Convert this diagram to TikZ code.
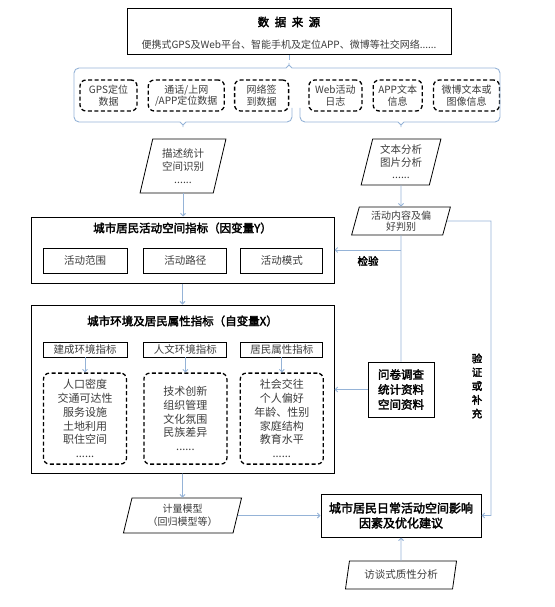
\documentclass[tikz,border=0pt]{standalone}
\usepackage{fontspec}
\setmainfont[AutoFakeBold=2.5]{Noto Sans CJK SC}
\usepackage{tikz}
\usetikzlibrary{shapes.geometric,arrows.meta,calc,positioning}
\definecolor{linkblue}{RGB}{149,179,215}
\definecolor{textgray}{RGB}{60,60,60}
\tikzset{
    bigbox/.style={draw, line width=1pt, align=center, inner sep=2pt},
    subbox/.style={draw, line width=0.9pt, align=center, inner sep=2pt, text=textgray,
        font=\fontsize{10.5}{12}\selectfont},
    dashbox/.style={draw, dash pattern=on 4pt off 2.5pt, line width=1.3pt, rounded corners=6pt,
        align=center, inner sep=3pt, text=textgray},
    paral/.style={trapezium, trapezium left angle=76, trapezium right angle=104,
        trapezium stretches=true, draw, line width=0.8pt, align=center, inner sep=1pt, text=textgray},
    heading/.style={font=\fontsize{11.5}{13.5}\selectfont\bfseries},
    link/.style={draw=linkblue, line width=0.9pt},
    flow/.style={link, -{Straight Barb[length=2.5pt,width=5pt]}},
    bracket/.style={link, rounded corners=5pt}
}

\begin{document}
\begin{tikzpicture}[x=1pt,y=1pt]
    \useasboundingbox (0,0) rectangle (554,-607);
    % Data sources
    \node[bigbox, minimum width=324pt, minimum height=46pt] (source) at (289,-32) {};
    \node[heading] (sourcetitle) at (289,-22) {数\hspace{5.5pt}据\hspace{5.5pt}来\hspace{5.5pt}源};
    \node[font=\fontsize{10}{12}\selectfont, text=textgray] (sourcelist) at (289,-45)
        {便携式GPS及Web平台、智能手机及定位APP、微博等社交网络......};
    \tikzset{every node/.append style={font=\fontsize{10}{11.5}\selectfont}}
    \node[dashbox, minimum width=57pt, minimum height=31pt] (gps) at (108.5,-95.5) {GPS定位\\数据};
    \node[dashbox, minimum width=76pt, minimum height=31pt, right=10pt of gps] (call) {通话/上网\\/APP定位数据};
    \node[dashbox, minimum width=54pt, minimum height=31pt, right=9pt of call] (checkin) {网络签\\到数据};
    \node[dashbox, minimum width=53pt, minimum height=31pt, right=19pt of checkin] (weblog) {Web活动\\日志};
    \node[dashbox, minimum width=49pt, minimum height=31pt, right=10pt of weblog] (apptext) {APP文本\\信息};
    \node[dashbox, minimum width=66pt, minimum height=31pt, right=10pt of apptext] (weibo) {微博文本或\\图像信息};
    % Brackets round the two groups
    \coordinate (toptip) at (289,-60);
    \draw[bracket] (74,-96) -- (74,-68) -- (281,-68) .. controls (286,-68) and (289,-65) .. (toptip)
        .. controls (289,-65) and (292,-68) .. (297,-68) -- (500,-68) -- (500,-96);
    \draw[link] (toptip) -- (source.south);
    \draw[bracket] (74,-96) -- (74,-122) -- (175,-122) .. controls (180,-122) and (183,-125) .. (183,-130)
        .. controls (183,-125) and (186,-122) .. (191,-122) -- (292,-122) -- (292,-108);
    \draw[bracket] (300,-108) -- (300,-122) -- (393,-122) .. controls (398,-122) and (401,-125) .. (401,-130)
        .. controls (401,-125) and (404,-122) .. (409,-122) -- (500,-122) -- (500,-96);
    % Processing of the data
    \node[paral, minimum width=86pt, minimum height=54pt, font=\fontsize{10.5}{13}\selectfont] (stats) at (183,-166)
        {描述统计\\空间识别\\......};
    \node[paral, minimum width=80pt, minimum height=46pt, font=\fontsize{10.5}{12.5}\selectfont] (textmine) at (401,-162)
        {文本分析\\图片分析\\......};
    \node[paral, minimum width=99pt, minimum height=28pt] (pref) at (401,-221) {活动内容及偏\\好判别};
    % Dependent variable
    \node[bigbox, minimum width=303pt, minimum height=66pt] (ybox) at (182.5,-250) {};
    \node[heading] (ytitle) at (182.5,-228) {城市居民活动空间指标（因变量Y）};
    \node[subbox, minimum width=84pt, minimum height=25pt] (range) at (85,-260.5) {活动范围};
    \node[subbox, minimum width=83pt, minimum height=25pt, right=16pt of range] (route) {活动路径};
    \node[subbox, minimum width=82pt, minimum height=25pt, right=13pt of route] (mode) {活动模式};
    % Independent variables
    \node[bigbox, minimum width=303pt, minimum height=168pt] (xbox) at (182.5,-389) {};
    \node[heading] (xtitle) at (182.5,-321) {城市环境及居民属性指标（自变量X）};
    \node[subbox, minimum width=84pt, minimum height=15pt, inner sep=1pt] (built) at (85,-349.5) {建成环境指标};
    \node[subbox, minimum width=83pt, minimum height=15pt, inner sep=1pt, right=16pt of built] (culture) {人文环境指标};
    \node[subbox, minimum width=82pt, minimum height=15pt, inner sep=1pt, right=13pt of culture] (resident) {居民属性指标};
    \node[dashbox, minimum width=83pt, minimum height=91pt, font=\fontsize{11}{13.7}\selectfont, below=15pt of built]
        (builtlist) {人口密度\\交通可达性\\服务设施\\土地利用\\职住空间\\......};
    \node[dashbox, minimum width=83pt, minimum height=91pt, font=\fontsize{11}{13.7}\selectfont, below=15pt of culture]
        (culturelist) {技术创新\\组织管理\\文化氛围\\民族差异\\......};
    \node[dashbox, minimum width=83pt, minimum height=91pt, font=\fontsize{11}{13.7}\selectfont, below=15pt of resident]
        (residentlist) {社会交往\\个人偏好\\年龄、性别\\家庭结构\\教育水平\\......};
    % Checks and results
    \node[bigbox, minimum width=66pt, minimum height=55pt, font=\fontsize{11.5}{15}\selectfont\bfseries] (survey) at (401,-389.5)
        {问卷调查\\统计资料\\空间资料};
    \node[paral, minimum width=119pt, minimum height=35pt, font=\fontsize{10}{13}\selectfont] (model) at (182.5,-515.5)
        {计量模型\\（回归模型等）};
    \node[bigbox, minimum width=160pt, minimum height=43pt, font=\fontsize{12}{15}\selectfont\bfseries] (result) at (401,-515.5)
        {城市居民日常活动空间影响\\因素及优化建议};
    \node[paral, minimum width=112pt, minimum height=28pt, font=\fontsize{10.5}{12}\selectfont] (interview) at (401,-575)
        {访谈式质性分析};
    \node[font=\fontsize{10.5}{12}\selectfont\bfseries] (check) at (368,-261) {检验};
    \node[font=\fontsize{10.5}{13.8}\selectfont\bfseries, align=center] (verify) at (477,-386) {验\\证\\或\\补\\充};
    % Connectors
    \draw[flow] (stats.south) -- (stats.south |- ybox.north);
    \draw[flow] (ybox.south) -- (xbox.north);
    \draw[flow] (built.south) -- (builtlist.north);
    \draw[flow] (culture.south) -- (culturelist.north);
    \draw[flow] (resident.south) -- (residentlist.north);
    \draw[flow] (xbox.south) -- (model.north);
    \draw[flow] (model.east) -- (model.east -| result.west);
    \draw[flow] (textmine.south) -- (pref.north);
    \draw[link] (pref.south) -- (survey.north);
    \draw[flow] (pref.south |- ybox.east) -- (ybox.east);
    \draw[flow] (survey.west) -- (survey.west -| xbox.east);
    \coordinate (loop) at (491,-221);
    \draw[flow] (pref.east) -- (loop) |- (result.east);
    \draw[flow] (interview.north) -- (result.south);
\end{tikzpicture}
\end{document}
